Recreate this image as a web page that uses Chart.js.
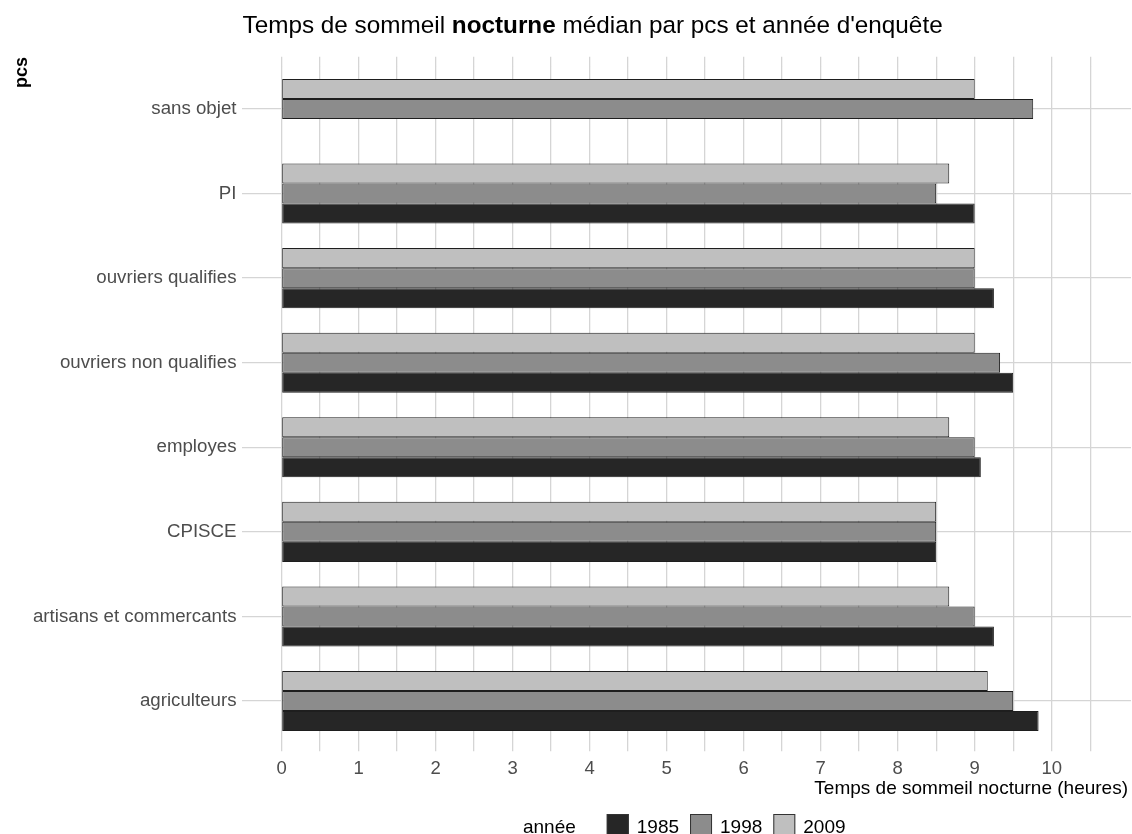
<!DOCTYPE html>
<html>
<head>
<meta charset="utf-8">
<script src="https://cdn.jsdelivr.net/npm/chart.js@4"></script>
<style>
  html, body { margin: 0; padding: 0; background: #fff; }
  #wrap { width: 1132px; height: 834px; }
</style>
</head>
<body>
<div id="wrap"><canvas id="myChart" width="1132" height="834"></canvas></div>
<script>
// data
const categories = ['sans objet', 'PI', 'ouvriers qualifies', 'ouvriers non qualifies',
  'employes', 'CPISCE', 'artisans et commercants', 'agriculteurs'];
const years = ['1985', '1998', '2009'];
const sleep1985 = [0, 9, 9.25, 9.5, 9.08, 8.5, 9.25, 9.83];
const sleep1998 = [9.76, 8.5, 9, 9.33, 9, 8.5, 9, 9.5];
const sleep2009 = [9, 8.67, 9, 9, 8.67, 8.5, 8.67, 9.17];
const xTicks = [0, 1, 2, 3, 4, 5, 6, 7, 8, 9, 10];

const FONT = '"Liberation Sans", Arial, sans-serif';
const GRID = '#d5d5d5';
const fills = { '1985': '#262626', '1998': '#8c8c8c', '2009': '#bfbfbf' };

const keepHalfSteps = scale => {
  scale.ticks = scale.ticks.filter(t => Math.abs(t.value * 2 - Math.round(t.value * 2)) < 1e-9);
};

// title, axis titles and legend, drawn on the canvas
const decorations = {
  id: 'decorations',
  afterDraw(chart) {
    const ctx = chart.ctx;
    const area = chart.chartArea;
    ctx.save();
    ctx.fillStyle = '#000';
    ctx.textBaseline = 'alphabetic';

    // title with one bold word
    const parts = [
      ['Temps de sommeil ', 'normal'],
      ['nocturne', 'bold'],
      [' médian par pcs et année d\'enquête', 'normal']
    ];
    let x = area.left + 1;
    parts.forEach(([txt, w]) => {
      ctx.font = w + ' 24.3px ' + FONT;
      ctx.textAlign = 'left';
      ctx.fillText(txt, x, 33);
      x += ctx.measureText(txt).width;
    });

    // y title
    ctx.save();
    ctx.translate(27, 57);
    ctx.rotate(-Math.PI / 2);
    ctx.font = 'bold 18px ' + FONT;
    ctx.textAlign = 'right';
    ctx.fillText('pcs', 0, 0);
    ctx.restore();

    // x title
    ctx.font = '19px ' + FONT;
    ctx.textAlign = 'right';
    ctx.fillText('Temps de sommeil nocturne (heures)', 1128, 794);

    // legend
    ctx.font = '19px ' + FONT;
    ctx.textAlign = 'left';
    const box = 22;
    const titleW = ctx.measureText('année').width;
    const itemW = years.map(y => box + 8 + ctx.measureText(y).width);
    const total = titleW + 31 + itemW.reduce((a, b) => a + b, 0) + 11 * (years.length - 1);
    let lx = (area.left + area.right) / 2 - total / 2 - 2;
    const base = 833;
    ctx.fillText('année', lx, base);
    lx += titleW + 31;
    years.forEach((y, i) => {
      ctx.fillStyle = fills[y];
      ctx.fillRect(lx, 814, box, box);
      ctx.strokeStyle = '#333';
      ctx.lineWidth = 1;
      ctx.strokeRect(lx + 0.5, 814.5, box - 1, box - 1);
      ctx.fillStyle = '#000';
      ctx.fillText(y, lx + box + 8, base);
      lx += itemW[i] + 11;
    });
    ctx.restore();
  }
};

const makeSet = (label, values) => ({
  label: label,
  data: values,
  backgroundColor: fills[label],
  borderColor: '#1e1e1e',
  borderWidth: 1,
  borderSkipped: false,
  categoryPercentage: 0.71,
  barPercentage: 1.0
});

const ctx = document.getElementById('myChart').getContext('2d');
const myChart = new Chart(ctx, {
  type: 'bar',
  data: {
    labels: categories,
    // first dataset sits on top of each group
    datasets: [makeSet('2009', sleep2009), makeSet('1998', sleep1998), makeSet('1985', sleep1985)]
  },
  plugins: [decorations],
  options: {
    indexAxis: 'y',
    responsive: false,
    animation: false,
    layout: { padding: { top: 56.7, bottom: 30.7, left: 0, right: 1 } },
    plugins: {
      legend: { display: false },
      title: { display: false },
      tooltip: { enabled: false }
    },
    scales: {
      x: {
        type: 'linear',
        position: 'bottom',
        min: -0.52,
        max: 11.03,
        ticks: {
          stepSize: 0.5,
          autoSkip: false,
          maxRotation: 0,
          padding: 7,
          color: '#4d4d4d',
          font: { family: FONT, size: 18.5 },
          callback: v => xTicks.includes(v) ? String(v) : ''
        },
        afterBuildTicks: keepHalfSteps,
        afterFit: scale => { scale.height = 60; },
        grid: { color: GRID, lineWidth: 1.3, drawTicks: true, tickLength: 8, tickColor: GRID },
        border: { display: false }
      },
      xTop: {
        type: 'linear',
        position: 'top',
        min: -0.52,
        max: 11.03,
        ticks: { stepSize: 0.5, display: false, autoSkip: false },
        afterBuildTicks: keepHalfSteps,
        afterFit: scale => { scale.height = 10; },
        grid: { color: GRID, lineWidth: 1.3, drawOnChartArea: false, drawTicks: true, tickLength: 10, tickColor: GRID },
        border: { display: false }
      },
      y: {
        type: 'category',
        offset: true,
        ticks: {
          padding: 5,
          color: '#4d4d4d',
          font: { family: FONT, size: 18.7 }
        },
        afterFit: scale => { scale.width = 241.5; },
        grid: { color: GRID, lineWidth: 1.3, offset: false, drawTicks: false },
        border: { display: false }
      }
    }
  }
});
</script>
</body>
</html>
